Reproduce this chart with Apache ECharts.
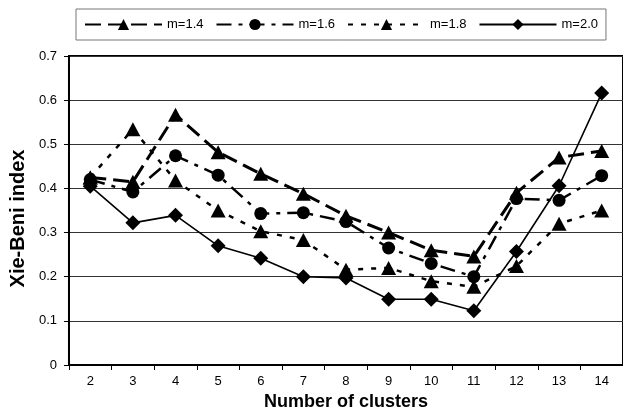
<!DOCTYPE html>
<html>
<head>
<meta charset="utf-8">
<script src="https://cdn.jsdelivr.net/npm/echarts@6/dist/echarts.min.js"></script>
<style>html,body{margin:0;padding:0;background:#fff}#c{width:623px;height:416px}</style>
</head>
<body>
<div id="c"></div>
<script>
const categories = ['2','3','4','5','6','7','8','9','10','11','12','13','14'];
const yTicks = [0, 0.1, 0.2, 0.3, 0.4, 0.5, 0.6, 0.7];
const seriesNames = ['m=1.4', 'm=1.6', 'm=1.8', 'm=2.0'];
const m14 = [0.425, 0.415, 0.567, 0.482, 0.433, 0.388, 0.338, 0.300, 0.260, 0.246, 0.390, 0.470, 0.485];
const m16 = [0.420, 0.392, 0.474, 0.430, 0.343, 0.345, 0.325, 0.265, 0.230, 0.200, 0.377, 0.373, 0.429];
const m18 = [0.425, 0.534, 0.418, 0.350, 0.303, 0.283, 0.216, 0.220, 0.190, 0.177, 0.224, 0.320, 0.350];
const m20 = [0.405, 0.322, 0.339, 0.270, 0.242, 0.200, 0.197, 0.149, 0.149, 0.123, 0.257, 0.406, 0.616];

const chart = echarts.init(document.getElementById('c'), null, {renderer: 'canvas'});
const font = 'Liberation Sans, Arial, sans-serif';
function mk(name, data, symbol, size, dash, width) {
  return {
    name: name, type: 'line', data: data, symbol: symbol, symbolSize: size,
    showAllSymbol: true,
    lineStyle: {color: '#000', width: width, type: dash},
    itemStyle: {color: '#000', borderWidth: 0},
    emphasis: {disabled: true}, animation: false
  };
}
chart.setOption({
  animation: false,
  textStyle: {fontFamily: font},
  legend: {
    left: 76, top: 9, padding: [9, 8],
    borderColor: '#777', borderWidth: 1,
    itemWidth: 77, itemHeight: 14, itemGap: 12,
    textStyle: {fontSize: 13, color: '#000', fontFamily: font},
    data: seriesNames
  },
  grid: {left: 66.5, right: -3, top: 56, bottom: 48, show: true, borderColor: '#000', borderWidth: 2, containLabel: false},
  xAxis: {
    type: 'category', data: categories, boundaryGap: true,
    name: 'Number of clusters', nameLocation: 'middle', nameGap: 28,
    nameTextStyle: {fontSize: 18, fontWeight: 'bold', color: '#000', fontFamily: font},
    axisLine: {lineStyle: {color: '#000', width: 2}},
    axisTick: {show: true, length: 5, lineStyle: {color: '#000', width: 1}},
    axisLabel: {fontSize: 13, color: '#000', margin: 10, fontFamily: font}
  },
  yAxis: {
    type: 'value', min: 0, max: 0.7, interval: 0.1,
    name: 'Xie-Beni index', nameLocation: 'middle', nameGap: 35, nameRotate: 90,
    nameTextStyle: {fontSize: 20, fontWeight: 'bold', color: '#000', fontFamily: font, padding: [0, 16, 0, 0]},
    axisLine: {show: true, lineStyle: {color: '#000', width: 2}},
    axisTick: {show: true, length: 5, lineStyle: {color: '#000'}},
    axisLabel: {fontSize: 13, color: '#000', margin: 12, fontFamily: font,
      formatter: function (v) { const t = yTicks.find(x => Math.abs(x - v) < 1e-9); return t === undefined ? '' : String(t); }},
    splitLine: {show: true, lineStyle: {color: '#333', width: 1}}
  },
  series: [
    mk(seriesNames[0], m14, 'triangle', [15, 14], [16, 7], 3),
    mk(seriesNames[1], m16, 'circle', 13, [15, 7, 4, 7], 2.5),
    mk(seriesNames[2], m18, 'triangle', [15, 14], [5, 8], 2.5),
    mk(seriesNames[3], m20, 'diamond', 15, 'solid', 1.6)
  ]
});
</script>
</body>
</html>
